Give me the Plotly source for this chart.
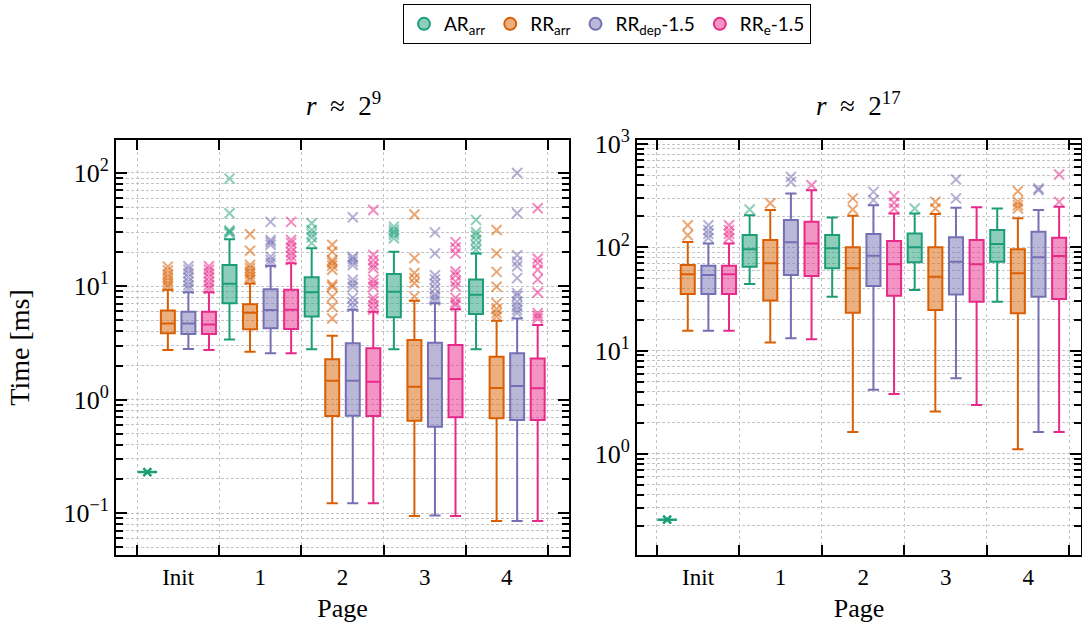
import math
import plotly.graph_objects as go

categories = ["Init", "1", "2", "3", "4"]
series_names = ["AR<sub>arr</sub>", "RR<sub>arr</sub>", "RR<sub>dep</sub>-1.5", "RR<sub>e</sub>-1.5"]
colors = ["#1b9e77", "#d95f02", "#7570b3", "#e7298a"]
fills = ["rgba(27,158,119,0.5)", "rgba(217,95,2,0.5)", "rgba(117,112,179,0.5)", "rgba(231,41,138,0.5)"]
outlier_colors = ["rgba(27,158,119,0.5)", "rgba(217,95,2,0.55)", "rgba(117,112,179,0.55)", "rgba(231,41,138,0.55)"]
offsets = [-0.375, -0.125, 0.125, 0.375]

# AR_arr init value (single point) per panel
left_ar_init = 0.23
right_ar_init = 0.23

# ---- Left panel: r ~ 2^9 ----
# AR_arr (pages 1-4)
L_ar_low = [3.4, 2.78, 2.78, 2.78]
L_ar_q1 = [7.08, 5.4, 5.33, 5.7]
L_ar_med = [10.5, 8.85, 8.96, 8.4]
L_ar_q3 = [15.4, 12.0, 12.8, 11.5]
L_ar_up = [26, 21.6, 20.2, 19.5]
L_ar_out = [[29.3, 30.3, 31, 44, 89], [24, 27, 29, 31.4, 36], [26.5, 28.5, 30, 31.5, 33.6], [21, 23, 25.6, 28, 30, 38.5]]
# RR_arr (Init, 1-4)
L_rra_low = [2.74, 2.65, 0.122, 0.094, 0.085]
L_rra_q1 = [3.85, 4.17, 0.716, 0.652, 0.684]
L_rra_med = [4.7, 5.85, 1.47, 1.3, 1.27]
L_rra_q3 = [6.1, 6.93, 2.27, 3.36, 2.39]
L_rra_up = [9.3, 10.6, 3.66, 7.46, 4.97]
L_rra_out = [[9.9, 10.5, 11.2, 12, 12.8, 13.8, 14.9], [11.4, 12, 12.8, 13.5, 14.4, 15.4, 20.6, 28.8],
             [5.2, 6.6, 8.1, 9.9, 10.3, 14, 15.2, 16.2, 17, 20.2, 23.2], [8.1, 10.7, 11.8, 13.1, 17.7, 43],
             [5.4, 5.8, 6.3, 7.1, 9.9, 13.4, 19.5, 31.4]]
# RR_dep-1.5
L_rrd_low = [2.8, 2.56, 0.122, 0.095, 0.085]
L_rrd_q1 = [3.79, 4.26, 0.72, 0.577, 0.66]
L_rrd_med = [4.7, 6.18, 1.47, 1.54, 1.32]
L_rrd_q3 = [5.97, 9.4, 3.14, 3.18, 2.56]
L_rrd_up = [8.85, 15.1, 6.2, 7.08, 5.2]
L_rrd_out = [[9.5, 10.2, 11, 12, 13, 14, 15], [16, 17, 18.2, 23.2, 24.5, 25.6, 37],
             [6.6, 7.2, 7.9, 9.9, 10.6, 11.4, 15.4, 16.5, 17.5, 18.2, 40.6],
             [7.5, 8, 8.5, 9.5, 10.5, 11.5, 12.5, 19.5, 29.9],
             [5.8, 6.2, 6.7, 7.3, 8.2, 8.7, 11.8, 15, 16.5, 18.8, 44, 99.8]]
# RR_e-1.5
L_rre_low = [2.74, 2.56, 0.122, 0.094, 0.085]
L_rre_q1 = [3.79, 4.2, 0.716, 0.698, 0.66]
L_rre_med = [4.6, 6.2, 1.44, 1.52, 1.26]
L_rre_q3 = [5.97, 9.3, 2.84, 3.03, 2.31]
L_rre_up = [8.85, 16, 5.97, 6.27, 4.55]
L_rre_out = [[9.5, 10.2, 11, 12, 13, 14, 15], [17, 18.5, 20, 22, 24, 25.6, 37],
             [6.2, 6.8, 7.4, 7.9, 9.9, 10.6, 11.4, 14.4, 15.5, 17, 18.9, 47],
             [6.8, 7.2, 7.9, 10, 11, 12.5, 13.5, 19.5, 22, 24.5],
             [5.2, 5.5, 5.8, 8.8, 11.5, 14, 16, 17.5, 48.8]]

# ---- Right panel: r ~ 2^17 ----
R_ar_low = [44.2, 33.3, 38.6, 29.8]
R_ar_q1 = [64.9, 62.7, 71.6, 72.6]
R_ar_med = [95.7, 97.8, 100, 107.6]
R_ar_q3 = [131.5, 131.5, 136.5, 147]
R_ar_up = [205, 195, 213, 238]
R_ar_out = [[233], [], [238], []]
R_rra_low = [15.6, 12, 1.63, 2.57, 1.11]
R_rra_q1 = [35.3, 30.5, 23.3, 24.8, 23]
R_rra_med = [54.8, 70, 62.7, 52, 56]
R_rra_q3 = [67.5, 118, 100, 100, 95.7]
R_rra_up = [113, 230, 202, 210, 191]
R_rra_out = [[131, 164], [267], [233, 298], [238, 277], [238, 256, 277, 350]]
R_rrd_low = [15.6, 13.2, 4.17, 5.4, 1.63]
R_rrd_q1 = [35.3, 54, 42.3, 35, 33.3]
R_rrd_med = [54, 112, 83, 72.6, 80]
R_rrd_q3 = [66.4, 184, 134.5, 125, 141.6]
R_rrd_up = [109, 333, 256, 242, 230]
R_rrd_out = [[123, 135, 147, 164], [431, 482], [287, 345], [298, 454], [360, 372]]
R_rre_low = [15.6, 12.9, 3.79, 2.98, 1.63]
R_rre_q1 = [35.3, 52.7, 34, 29.8, 31.6]
R_rre_med = [54.8, 109, 68.5, 68.5, 82.4]
R_rre_q3 = [66.4, 177, 115, 118, 124]
R_rre_up = [109, 358, 213, 244, 247]
R_rre_out = [[123, 135, 147, 164], [400], [238, 270, 314], [], [276, 508]]

panels = [
    dict(xa="x", ya="y", ar_init=left_ar_init,
         stats=[(L_ar_low, L_ar_q1, L_ar_med, L_ar_q3, L_ar_up, L_ar_out),
                (L_rra_low, L_rra_q1, L_rra_med, L_rra_q3, L_rra_up, L_rra_out),
                (L_rrd_low, L_rrd_q1, L_rrd_med, L_rrd_q3, L_rrd_up, L_rrd_out),
                (L_rre_low, L_rre_q1, L_rre_med, L_rre_q3, L_rre_up, L_rre_out)]),
    dict(xa="x2", ya="y2", ar_init=right_ar_init,
         stats=[(R_ar_low, R_ar_q1, R_ar_med, R_ar_q3, R_ar_up, R_ar_out),
                (R_rra_low, R_rra_q1, R_rra_med, R_rra_q3, R_rra_up, R_rra_out),
                (R_rrd_low, R_rrd_q1, R_rrd_med, R_rrd_q3, R_rrd_up, R_rrd_out),
                (R_rre_low, R_rre_q1, R_rre_med, R_rre_q3, R_rre_up, R_rre_out)]),
]

fig = go.Figure()

for p in panels:
    for s, (low, q1, med, q3, up, outs) in enumerate(p["stats"]):
        start = 1 if s == 0 else 0  # AR_arr has no Init box
        xs = [i + offsets[s] for i in range(start, len(categories))]
        fig.add_trace(go.Box(
            x=xs, q1=q1, median=med, q3=q3, lowerfence=low, upperfence=up,
            width=0.17, whiskerwidth=0.8, boxpoints=False,
            line=dict(color=colors[s], width=2), fillcolor=fills[s],
            showlegend=False, hoverinfo="skip", xaxis=p["xa"], yaxis=p["ya"]))
        ox, oy = [], []
        for k, vals in enumerate(outs):
            for v in vals:
                ox.append(start + k + offsets[s])
                oy.append(v)
        fig.add_trace(go.Scatter(
            x=ox, y=oy, mode="markers", showlegend=False, hoverinfo="skip",
            marker=dict(symbol="x-thin", size=10, color=outlier_colors[s],
                        line=dict(width=2, color=outlier_colors[s])),
            xaxis=p["xa"], yaxis=p["ya"]))
    # AR_arr init point (degenerate)
    for sym, sz in (("line-ew", 14), ("x-thin", 8)):
        fig.add_trace(go.Scatter(
            x=[0 + offsets[0]], y=[p["ar_init"]], mode="markers", showlegend=False,
            hoverinfo="skip",
            marker=dict(symbol=sym, size=sz, color=colors[0], line=dict(width=2.5, color=colors[0])),
            xaxis=p["xa"], yaxis=p["ya"]))

# legend entries
for s in range(4):
    fig.add_trace(go.Scatter(
        x=[None], y=[None], mode="markers", name=series_names[s],
        marker=dict(symbol="circle", size=13, color=fills[s], line=dict(width=1.5, color=colors[s]))))

serif = "Liberation Serif"
W, H = 1082, 635


def xaxis_cfg(dom, rng):
    return dict(
        domain=dom, range=rng, tickmode="array", tickvals=list(range(len(categories))),
        ticktext=categories, ticks="", showgrid=False, zeroline=False, automargin=False,
        showline=True, linecolor="black", linewidth=2, mirror="ticks",
        tickfont=dict(family=serif, size=23, color="black"), ticklabelstandoff=0,
        title=dict(text="Page", font=dict(family=serif, size=26, color="black"), standoff=10),
        minor=dict(tickmode="array", tickvals=[i - 0.5 for i in range(len(categories) + 1)],
                   ticks="inside", ticklen=10, tickwidth=2, tickcolor="black",
                   showgrid=True, gridcolor="#c4c4c4", gridwidth=1, griddash="dot"))


def yaxis_cfg(dom, rng, decades, anchor):
    majors = [10 ** d for d in decades]
    minors = []
    for d in range(decades[0] - 1, decades[-1] + 1):
        for m in range(2, 10):
            v = m * 10 ** d
            if rng[0] <= math.log10(v) <= rng[1]:
                minors.append(v)
    return dict(
        domain=dom, type="log", range=rng, anchor=anchor, automargin=False,
        tickmode="array", tickvals=majors,
        ticktext=["10<sup>%s</sup>" % (str(d).replace("-", "−")) for d in decades],
        ticks="inside", ticklen=11, tickwidth=2, tickcolor="black",
        showline=True, linecolor="black", linewidth=2, mirror="ticks",
        showgrid=True, gridcolor="#c4c4c4", gridwidth=1, griddash="3px,2px", zeroline=False,
        tickfont=dict(family=serif, size=26, color="black"),
        minor=dict(tickmode="array", tickvals=minors, ticks="inside", ticklen=7, tickwidth=2,
                   tickcolor="black", showgrid=True, gridcolor="#c4c4c4", gridwidth=1,
                   griddash="3px,2px"))


ydom = [1 - 555 / H, 1 - 140 / H]
fig.update_layout(
    width=W, height=H, margin=dict(l=0, r=0, t=0, b=0, autoexpand=False),
    paper_bgcolor="white", plot_bgcolor="white", boxmode="overlay",
    xaxis=xaxis_cfg([116 / W, 569 / W], [-0.756, 4.756]),
    xaxis2=dict(xaxis_cfg([637 / W, 1081 / W], [-0.74, 4.64]), anchor="y2"),
    yaxis=dict(yaxis_cfg(ydom, [-1.37, 2.29], [-1, 0, 1, 2], "x"),
               title=dict(text="Time [ms]", font=dict(family=serif, size=28, color="black"), standoff=26)),
    yaxis2=yaxis_cfg(ydom, [-0.98, 3.04], [0, 1, 2, 3], "x2"),
    legend=dict(orientation="h", x=607 / W, xanchor="center", y=1 - 4 / H, yanchor="top",
                bordercolor="black", borderwidth=1, font=dict(family="Lato", size=19, color="black"),
                itemsizing="constant", tracegroupgap=0, itemwidth=30, bgcolor="white"),
    annotations=[
        dict(text="<i>r</i>\u2002≈\u20022<sup>9</sup>", x=343 / W, y=1 - 104 / H, xref="paper", yref="paper",
             xanchor="center", yanchor="middle",
             showarrow=False, font=dict(family=serif, size=27, color="black")),
        dict(text="<i>r</i>\u2002≈\u20022<sup>17</sup>", x=858 / W, y=1 - 104 / H, xref="paper", yref="paper",
             xanchor="center", yanchor="middle",
             showarrow=False, font=dict(family=serif, size=27, color="black")),
    ],
)

fig.write_html("out.html")
